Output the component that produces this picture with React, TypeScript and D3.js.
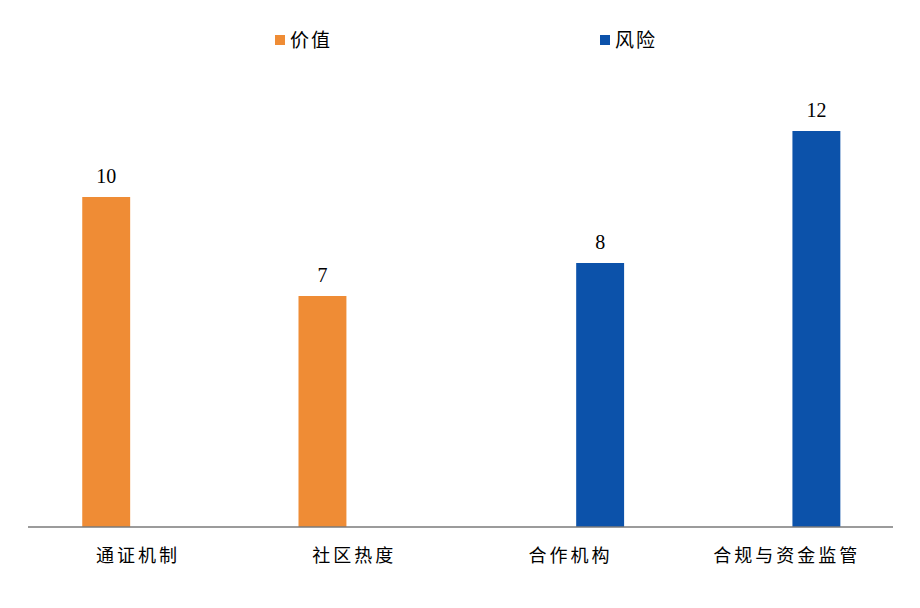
import React from "react";
import * as d3 from "d3";

const categories = ["通证机制", "社区热度", "合作机构", "合规与资金监管"];
const seriesNames = ["价值", "风险"];
const valueSeries: (number | null)[] = [10, 7, null, null];
const riskSeries: (number | null)[] = [null, null, 8, 12];
const seriesColors = ["#EF8C35", "#0C52AA"];

const W = 920;
const H = 608;
const margin = { left: 28, right: 27, top: 65, bottom: 81 };

export default function App() {
  const x0 = d3
    .scaleBand<string>()
    .domain(categories)
    .range([margin.left + 0.8, W - margin.right + 0.8])
    .paddingInner(0)
    .paddingOuter(0);
  const x1 = d3
    .scaleBand<string>()
    .domain(seriesNames)
    .range([0, x0.bandwidth()])
    .paddingInner(0.22)
    .paddingOuter(0.87);
  const y = d3.scaleLinear().domain([0, 14]).range([H - margin.bottom, margin.top]);
  const allSeries = [valueSeries, riskSeries];
  const base = y(0);

  const legendX = [275, 600];

  return (
    <svg
      width={W}
      height={H}
      style={{ position: "absolute", left: 0, top: 0, background: "#fff" }}
    >
      {allSeries.map((vals, si) =>
        vals.map((v, ci) => {
          if (v == null) return null;
          const bx = (x0(categories[ci]) as number) + (x1(seriesNames[si]) as number);
          const by = y(v);
          return (
            <g key={`${si}-${ci}`}>
              <rect
                x={bx}
                y={by}
                width={x1.bandwidth()}
                height={base - by}
                fill={seriesColors[si]}
              />
              <text
                x={bx + x1.bandwidth() / 2}
                y={by - 14}
                textAnchor="middle"
                fontFamily="'Liberation Serif', 'Times New Roman', serif"
                fontSize={20}
                fill="#000"
              >
                {v}
              </text>
            </g>
          );
        })
      )}
      <line
        x1={margin.left}
        x2={W - margin.right}
        y1={base}
        y2={base}
        stroke="#7a7a7a"
        strokeWidth={1.3}
      />
      {categories.map((c) => (
        <text
          key={c}
          x={(x0(c) as number) + x0.bandwidth() / 2 + 1}
          y={562}
          textAnchor="middle"
          fontFamily="'Noto Sans CJK SC', sans-serif"
          fontSize={18}
          letterSpacing={3}
          fill="#000"
        >
          {c}
        </text>
      ))}
      {seriesNames.map((s, i) => (
        <g key={s}>
          <rect x={legendX[i]} y={35} width={10} height={10} fill={seriesColors[i]} />
          <text
            x={legendX[i] + 15}
            y={46.5}
            fontFamily="'Noto Sans CJK SC', sans-serif"
            fontSize={19}
            letterSpacing={2}
            fill="#000"
          >
            {s}
          </text>
        </g>
      ))}
    </svg>
  );
}
